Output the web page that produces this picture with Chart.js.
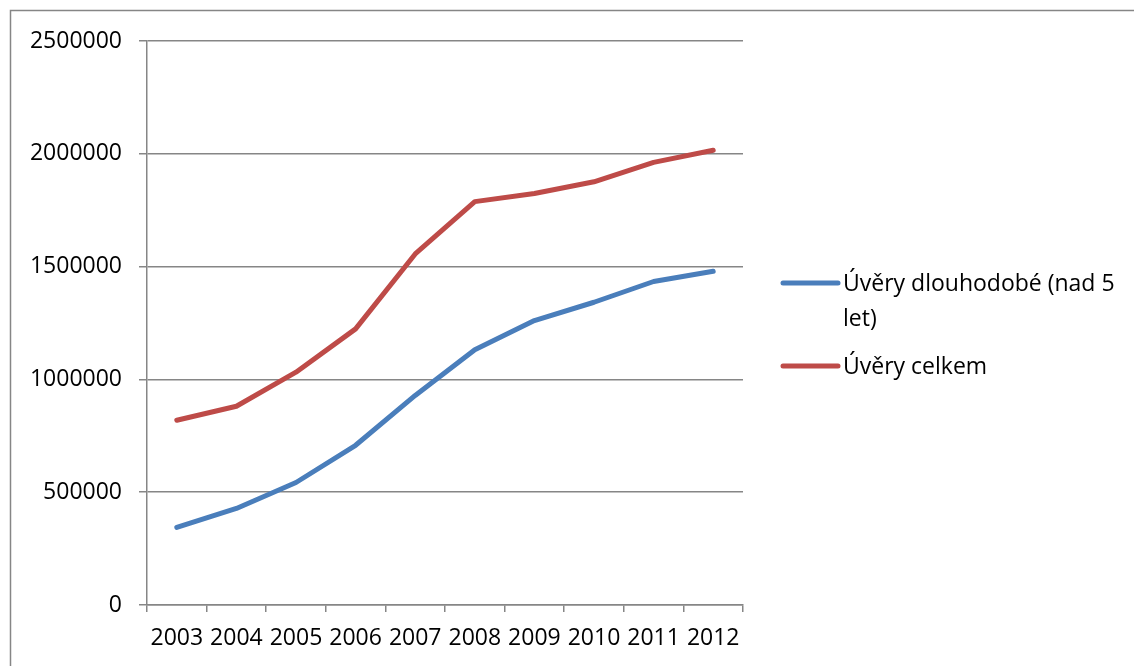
<!DOCTYPE html>
<html>
<head>
<meta charset="utf-8">
<title>Úvěry</title>
<script src="https://cdn.jsdelivr.net/npm/chart.js@4"></script>
<style>
  html, body { margin: 0; padding: 0; background: #ffffff; }
  #wrap { width: 1134px; height: 666px; }
</style>
</head>
<body>
<div id="wrap"><canvas id="c" width="1134" height="666"></canvas></div>
<script>
// Years on the category axis
const years = ['2003', '2004', '2005', '2006', '2007', '2008', '2009', '2010', '2011', '2012'];

// Long-term loans (over 5 years)
const dlouhodobe = [344000, 428000, 543000, 708000, 929000, 1131000, 1261000, 1342000, 1434000, 1479000];

// Total loans
const celkem = [819000, 881000, 1032000, 1224000, 1556000, 1788000, 1824000, 1876000, 1962000, 2016000];

// Value axis ticks
const yTicks = [0, 500000, 1000000, 1500000, 2000000, 2500000];

// Legend entries (text split into the lines it is shown on)
const legendItems = [
  { lines: ['Úvěry dlouhodobé (nad 5', 'let)'], color: '#4a7ebb' },
  { lines: ['Úvěry celkem'], color: '#be4b48' }
];

const FONT = '"Open Sans", "Noto Sans", sans-serif';
const FONT_SIZE = 23;
const GRID = '#868686';

// Outer frame of the chart object
const framePlugin = {
  id: 'frame',
  beforeDraw(chart) {
    const ctx = chart.ctx;
    ctx.save();
    ctx.fillStyle = '#ffffff';
    ctx.fillRect(0, 0, chart.width, chart.height);
    ctx.strokeStyle = GRID;
    ctx.lineWidth = 1.5;
    ctx.strokeRect(10.5, 10.5, 1400, 1000);
    ctx.restore();
  }
};

// Legend on the right, with wrapped first entry
const sideLegend = {
  id: 'sideLegend',
  afterDraw(chart) {
    const ctx = chart.ctx;
    const area = chart.chartArea;
    const x0 = area.right + 40;
    const lineLen = 55;
    const lineH = 35;
    let y = 284;
    ctx.save();
    ctx.font = FONT_SIZE + 'px ' + FONT;
    ctx.textBaseline = 'middle';
    ctx.textAlign = 'left';
    legendItems.forEach(item => {
      ctx.strokeStyle = item.color;
      ctx.lineWidth = 5;
      ctx.lineCap = 'round';
      ctx.beginPath();
      ctx.moveTo(x0, y - 1);
      ctx.lineTo(x0 + lineLen, y - 1);
      ctx.stroke();
      ctx.fillStyle = '#000000';
      item.lines.forEach((t, i) => {
        ctx.fillText(t, x0 + lineLen + 5, y + i * lineH);
      });
      y += item.lines.length * lineH + 13;
    });
    ctx.restore();
  }
};

new Chart(document.getElementById('c'), {
  type: 'line',
  data: {
    labels: years,
    datasets: [
      {
        label: legendItems[0].lines.join(' '),
        data: dlouhodobe,
        borderColor: legendItems[0].color,
        backgroundColor: legendItems[0].color,
        borderWidth: 5,
        pointRadius: 0,
        tension: 0,
        borderCapStyle: 'round',
        borderJoinStyle: 'round'
      },
      {
        label: legendItems[1].lines.join(' '),
        data: celkem,
        borderColor: legendItems[1].color,
        backgroundColor: legendItems[1].color,
        borderWidth: 5,
        pointRadius: 0,
        tension: 0,
        borderCapStyle: 'round',
        borderJoinStyle: 'round'
      }
    ]
  },
  options: {
    responsive: false,
    animation: false,
    devicePixelRatio: 1,
    layout: { padding: { left: 0, top: 41, right: 391, bottom: 0 } },
    plugins: {
      legend: { display: false },
      tooltip: { enabled: false }
    },
    scales: {
      x: {
        type: 'category',
        offset: true,
        grid: {
          offset: true,
          drawOnChartArea: false,
          drawTicks: true,
          tickLength: 7,
          color: GRID,
          lineWidth: 1.5
        },
        border: { display: true, color: GRID, width: 1.5 },
        ticks: {
          color: '#000000',
          font: { family: FONT, size: FONT_SIZE },
          padding: 13,
          maxRotation: 0,
          autoSkip: false
        },
        afterFit(scale) { scale.height = 61; }
      },
      y: {
        min: 0,
        max: 2500000,
        afterBuildTicks(scale) { scale.ticks = yTicks.map(v => ({ value: v })); },
        grid: {
          color: GRID,
          lineWidth: 1.5,
          tickLength: 8,
          drawTicks: true
        },
        border: { display: true, color: GRID, width: 1.5 },
        ticks: {
          color: '#000000',
          font: { family: FONT, size: FONT_SIZE },
          padding: 17,
          callback: v => String(v)
        },
        afterFit(scale) { scale.width = 147; }
      }
    }
  },
  plugins: [framePlugin, sideLegend]
});
</script>
</body>
</html>
